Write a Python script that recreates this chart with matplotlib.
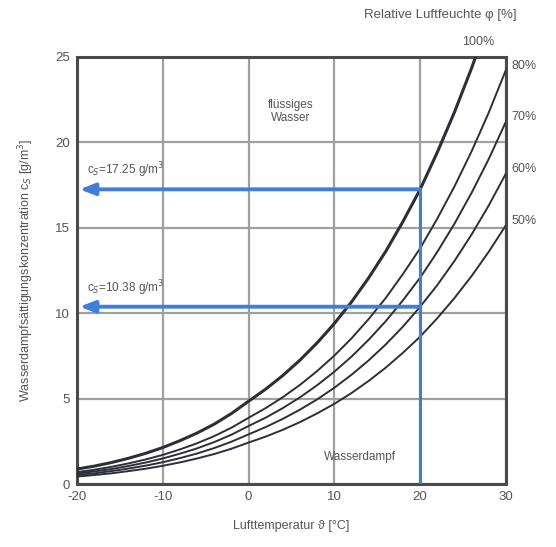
import numpy as np
import matplotlib
matplotlib.use('Agg')
import matplotlib.pyplot as plt

# Lufttemperatur [°C]
temp = [-20, -18, -16, -14, -12, -10, -8, -6, -4, -2, 0, 2, 4, 6, 8,
        10, 12, 14, 16, 18, 20, 22, 24, 26, 28, 30]

# Wasserdampfkonzentration [g/m³] je relative Luftfeuchte
c100 = [0.88, 1.05, 1.26, 1.51, 1.80, 2.14, 2.54, 2.99, 3.51, 4.13, 4.85, 5.56, 6.36, 7.26, 8.27,
        9.40, 10.66, 12.07, 13.63, 15.37, 17.25, 19.42, 21.77, 24.35, 27.19, 30.30]
c80 = [0.70, 0.84, 1.01, 1.21, 1.44, 1.71, 2.03, 2.39, 2.81, 3.30, 3.88, 4.45, 5.09, 5.81, 6.62,
       7.52, 8.53, 9.66, 10.90, 12.30, 13.80, 15.54, 17.42, 19.48, 21.75, 24.24]
c70 = [0.62, 0.74, 0.88, 1.06, 1.26, 1.50, 1.78, 2.09, 2.46, 2.89, 3.40, 3.89, 4.45, 5.08, 5.79,
       6.58, 7.46, 8.45, 9.54, 10.76, 12.08, 13.59, 15.24, 17.05, 19.03, 21.21]
c60 = [0.53, 0.63, 0.76, 0.91, 1.08, 1.28, 1.52, 1.79, 2.11, 2.48, 2.91, 3.34, 3.82, 4.36, 4.96,
       5.64, 6.40, 7.24, 8.18, 9.22, 10.38, 11.65, 13.06, 14.61, 16.31, 18.18]
c50 = [0.44, 0.53, 0.63, 0.76, 0.90, 1.07, 1.27, 1.50, 1.76, 2.07, 2.43, 2.78, 3.18, 3.63, 4.14,
       4.70, 5.33, 6.04, 6.82, 7.69, 8.63, 9.71, 10.89, 12.18, 13.60, 15.15]

kurven = [c100, c80, c70, c60, c50]
kurven_label = ['100%', '80%', '70%', '60%', '50%']

# Ablesebeispiel bei 20 °C
t_ablesen = 20
c_ablesen = [17.25, 10.38]
c_text = ['c$_{S}$=17.25 g/m$^3$', 'c$_{S}$=10.38 g/m$^3$']

xticks = [-20, -10, 0, 10, 20, 30]
yticks = [0, 5, 10, 15, 20, 25]

textfarbe = '#555555'
blau = '#3f7fd9'

plt.rcParams['font.family'] = ['Liberation Sans', 'DejaVu Sans']
plt.rcParams['axes.unicode_minus'] = False

fig = plt.figure(figsize=(5.56, 5.47), dpi=100)
ax = fig.add_axes([0.1385, 0.115, 0.7715, 0.781])

ax.set_xlim(-20, 30)
ax.set_ylim(0, 25)
ax.set_xticks(xticks)
ax.set_yticks(yticks)
ax.grid(True, color='#a0a0a0', lw=1.6)
ax.set_axisbelow(True)
ax.tick_params(length=0, pad=5, labelsize=9.5, labelcolor=textfarbe)
for s in ax.spines.values():
    s.set_color('#4a4a4a')
    s.set_linewidth(2.2)

for i, c in enumerate(kurven):
    lw = 2.2 if i == 0 else 1.4
    ax.plot(temp, c, color='#2e2e38', lw=lw, zorder=3)

# Beschriftung rechts
for c, lab in zip(kurven[1:], kurven_label[1:]):
    ax.annotate(lab, xy=(30, c[-1]), xytext=(4, 3), textcoords='offset points',
                ha='left', va='center', fontsize=9, color=textfarbe, annotation_clip=False)

fig.text(0.86, 0.924, kurven_label[0], ha='center', va='center', fontsize=9, color=textfarbe)
fig.text(0.655, 0.972, 'Relative Luftfeuchte \u03c6 [%]', ha='left', va='center',
         fontsize=9.5, color=textfarbe)

# Ablesen
ax.plot([t_ablesen, t_ablesen], [0, c_ablesen[0]], color=blau, lw=2.2, zorder=4)
for c, txt in zip(c_ablesen, c_text):
    ax.annotate('', xy=(-19.7, c), xytext=(t_ablesen, c),
                arrowprops=dict(arrowstyle='-|>,head_length=0.9,head_width=0.35',
                                lw=2.8, color=blau, shrinkA=0, shrinkB=0), zorder=4)
    ax.text(-18.8, c + 1.1, txt, ha='left', va='center', fontsize=8.5, color=textfarbe)

ax.text(4.9, 21.8, 'flüssiges\nWasser', ha='center', va='center', fontsize=8.5,
        color=textfarbe, linespacing=1.1)
ax.text(13.0, 1.6, 'Wasserdampf', ha='center', va='center', fontsize=8.5, color=textfarbe)

ax.set_xlabel('Lufttemperatur \u03d1 [°C]', fontsize=9, color=textfarbe, labelpad=12)
ax.set_ylabel('Wasserdampfsättigungskonzentration c$_{S}$ [g/m$^3$]', fontsize=9,
              color=textfarbe, labelpad=14)

fig.savefig('out.png', dpi=100)
